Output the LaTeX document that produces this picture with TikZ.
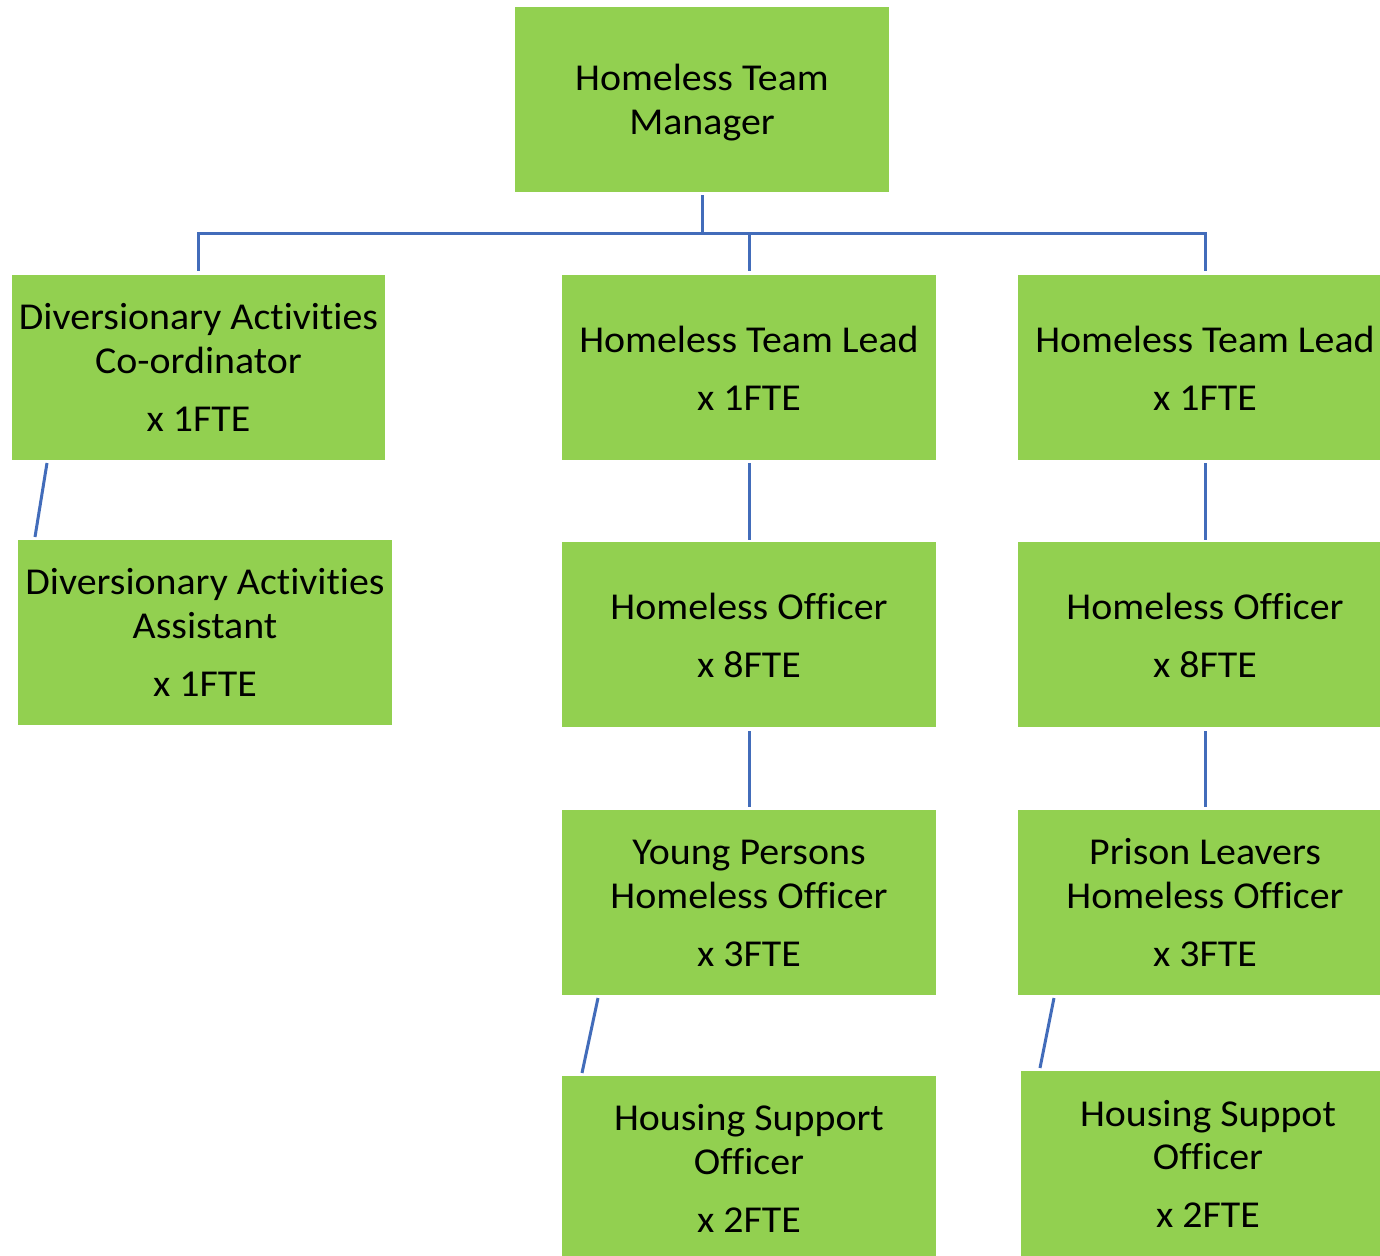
\documentclass[tikz,border=0pt]{standalone}
\usepackage{fontspec}
\setmainfont{Carlito}[FakeStretch=1.05,Ligatures=NoCommon]
\definecolor{boxgreen}{HTML}{92D050}
\definecolor{linkblue}{RGB}{66,108,186}
\begin{document}
\begin{tikzpicture}[x=1pt,y=-1pt,
  box/.style={fill=boxgreen, draw=none, inner sep=0pt, minimum width=374pt, minimum height=185pt},
  lbl/.style={anchor=base, inner sep=0pt, yshift=-2pt, font=\fontsize{38pt}{44pt}\selectfont},
  conn/.style={draw=linkblue, line width=3pt}]
\useasboundingbox (0,0) rectangle (1380,1255);
\clip (0,0) rectangle (1380,1255);
\fill[white] (0,0) rectangle (1380,1255);
% boxes
\node[box] (mgr)   at (702,99.5) {};
\node[box, minimum width=373pt] (coord) at (198.5,367.5) {};
\node[box] (lead1) at (749,367.5) {};
\node[box] (lead2) at (1205,367.5) {};
\node[box] (asst)  at (205,632.5) {};
\node[box] (off1)  at (749,634.5) {};
\node[box] (off2)  at (1205,634.5) {};
\node[box] (yp)    at (749,902.5) {};
\node[box] (pl)    at (1205,902.5) {};
\node[box] (hs1)   at (749,1168.5) {};
\node[box] (hs2)   at (1208,1163.5) {};
% texts
\node[lbl] (mgrA) at (702,88) {Homeless Team};
\node[lbl] (mgrB) at (702,132) {Manager};
\node[lbl] (coordA) at (198.5,327) {Diversionary Activities};
\node[lbl] (coordB) at (198.5,371) {Co-ordinator};
\node[lbl] (coordC) at (198.5,429) {x 1FTE};
\node[lbl] (lead1A) at (749,350) {Homeless Team Lead};
\node[lbl] (lead1B) at (749,408) {x 1FTE};
\node[lbl] (lead2A) at (1205,350) {Homeless Team Lead};
\node[lbl] (lead2B) at (1205,408) {x 1FTE};
\node[lbl] (asstA) at (205,592) {Diversionary Activities};
\node[lbl] (asstB) at (205,636) {Assistant};
\node[lbl] (asstC) at (205,694) {x 1FTE};
\node[lbl] (off1A) at (749,617) {Homeless Officer};
\node[lbl] (off1B) at (749,675) {x 8FTE};
\node[lbl] (off2A) at (1205,617) {Homeless Officer};
\node[lbl] (off2B) at (1205,675) {x 8FTE};
\node[lbl] (ypA) at (749,862) {Young Persons};
\node[lbl] (ypB) at (749,906) {Homeless Officer};
\node[lbl] (ypC) at (749,964) {x 3FTE};
\node[lbl] (plA) at (1205,862) {Prison Leavers};
\node[lbl] (plB) at (1205,906) {Homeless Officer};
\node[lbl] (plC) at (1205,964) {x 3FTE};
\node[lbl] (hs1A) at (749,1128) {Housing Support};
\node[lbl] (hs1B) at (749,1172) {Officer};
\node[lbl] (hs1C) at (749,1230) {x 2FTE};
\node[lbl] (hs2A) at (1208,1124) {Housing Suppot};
\node[lbl] (hs2B) at (1208,1167) {Officer};
\node[lbl] (hs2C) at (1208,1225) {x 2FTE};
% connectors
\coordinate (bus) at (702,233);
\draw[conn] ([yshift=-3pt]mgr.south) -- (bus);
\draw[conn] (bus) -| ([yshift=4pt]coord.north);
\draw[conn] (bus) -| ([yshift=4pt]lead1.north);
\draw[conn] (bus) -| ([yshift=4pt]lead2.north);
\draw[conn] ([yshift=-3pt]lead1.south) -- ([yshift=2pt]off1.north);
\draw[conn] ([yshift=-3pt]lead2.south) -- ([yshift=2pt]off2.north);
\draw[conn] ([yshift=-4pt]off1.south) -- ([yshift=3pt]yp.north);
\draw[conn] ([yshift=-4pt]off2.south) -- ([yshift=3pt]pl.north);
\coordinate (d1a) at (47,463);
\coordinate (d1b) at (35,537);
\coordinate (d2a) at (598,998);
\coordinate (d2b) at (582,1073);
\coordinate (d3a) at (1054,998);
\coordinate (d3b) at (1040,1068);
\draw[conn] (d1a) -- (d1b);
\draw[conn] (d2a) -- (d2b);
\draw[conn] (d3a) -- (d3b);
\end{tikzpicture}
\end{document}
